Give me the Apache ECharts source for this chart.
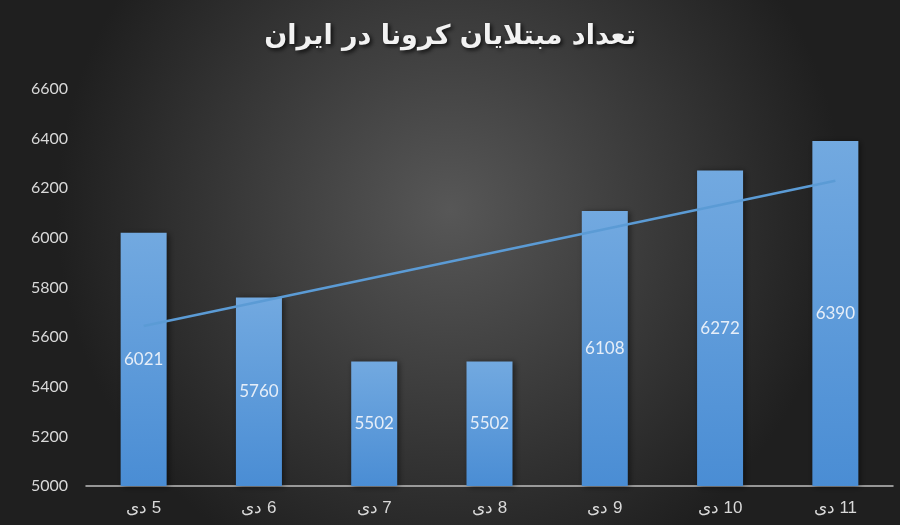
<!DOCTYPE html>
<html>
<head>
<meta charset="utf-8">
<script src="https://cdn.jsdelivr.net/npm/echarts@6/dist/echarts.min.js"></script>
<style>
  html, body { margin: 0; padding: 0; }
  #main { width: 900px; height: 525px; }
</style>
</head>
<body>
<div id="main"></div>
<script>
var titleText = 'تعداد مبتلایان کرونا در ایران';
var days = ['5 دی', '6 دی', '7 دی', '8 دی', '9 دی', '10 دی', '11 دی'];
var cases = [6021, 5760, 5502, 5502, 6108, 6272, 6390];
// linear trend line, only its two ends
var trend = [5645, null, null, null, null, null, 6230];
var yTicks = [5000, 6600, 200];

var myChart = echarts.init(document.getElementById('main'));

var option = {
    backgroundColor: {
        type: 'radial', x: 0.5, y: 0.4, r: 0.75,
        colorStops: [
            { offset: 0, color: '#575757' },
            { offset: 1, color: '#1f1f1f' }
        ]
    },
    title: {
        text: titleText,
        left: 'center',
        top: 18,
        textStyle: {
            color: '#f2f2f2',
            fontSize: 27,
            fontWeight: 'bold',
            fontFamily: 'DejaVu Sans',
            textShadowColor: 'rgba(0,0,0,0.8)',
            textShadowBlur: 4,
            textShadowOffsetX: 2,
            textShadowOffsetY: 2
        }
    },
    grid: { left: 86, right: 7, top: 89, bottom: 39, containLabel: false },
    xAxis: {
        type: 'category',
        data: days,
        axisLine: { lineStyle: { color: '#bfbfbf', width: 1.5 } },
        axisTick: { show: false },
        axisLabel: {
            color: '#d9d9d9',
            fontSize: 17,
            fontFamily: 'Liberation Sans',
            margin: 14,
            formatter: function (v) { return '\u202B' + v + '\u202C'; }
        }
    },
    yAxis: {
        type: 'value',
        min: yTicks[0],
        max: yTicks[1],
        interval: yTicks[2],
        axisLine: { show: false },
        axisTick: { show: false },
        splitLine: { show: false },
        axisLabel: {
            color: '#d9d9d9',
            fontSize: 16,
            fontFamily: 'Lato',
            margin: 18,
            formatter: function (v) { return String(v); }
        }
    },
    series: [
        {
            type: 'bar',
            data: cases,
            barWidth: 46,
            itemStyle: {
                color: {
                    type: 'linear', x: 0, y: 0, x2: 0, y2: 1,
                    colorStops: [
                        { offset: 0, color: '#72a9e0' },
                        { offset: 1, color: '#4a8dd4' }
                    ]
                },
                shadowColor: 'rgba(0,0,0,0.5)',
                shadowBlur: 6,
                shadowOffsetX: 2,
                shadowOffsetY: 1
            },
            label: {
                show: true,
                position: 'inside',
                color: '#e6eef8',
                fontSize: 17,
                fontFamily: 'Lato'
            }
        },
        {
            type: 'line',
            data: trend,
            connectNulls: true,
            symbol: 'none',
            lineStyle: { color: '#5b9bd5', width: 2.5 },
            z: 3
        }
    ]
};

myChart.setOption(option);
</script>
</body>
</html>
